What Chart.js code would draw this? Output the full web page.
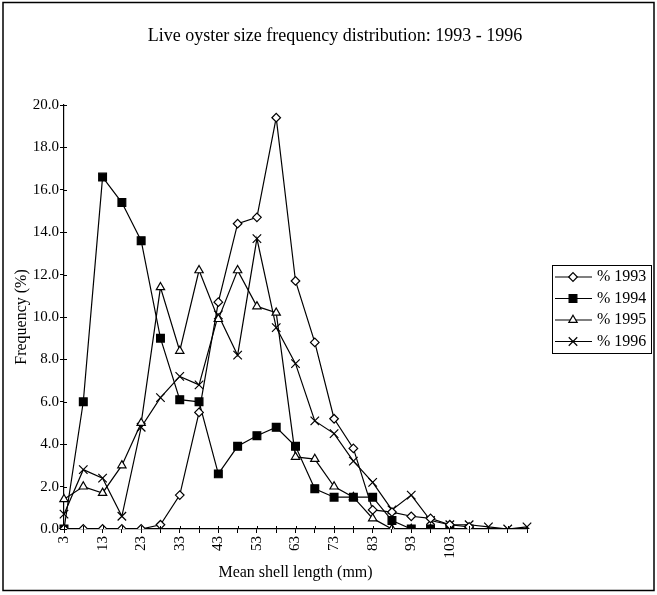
<!DOCTYPE html>
<html>
<head>
<meta charset="utf-8">
<title>Live oyster size frequency distribution</title>
<script src="https://cdn.jsdelivr.net/npm/chart.js@4/dist/chart.umd.min.js"></script>
<style>
  html, body { margin: 0; padding: 0; background: #fff; }
  #wrap { width: 657px; height: 595px; }
</style>
</head>
<body>
<div id="wrap"><canvas id="chart" width="657" height="595"></canvas></div>
<script>
// Mean shell length classes (mm)
const lengths = [3, 8, 13, 18, 23, 28, 33, 38, 43, 48, 53, 58, 63, 68, 73, 78, 83, 88, 93, 98, 103, 108, 113, 118, 123];
const lastLabelled = 103;

// Frequency (%) per year
const pct1993 = [0, 0, 0, 0, 0, 0.2, 1.6, 5.5, 10.7, 14.4, 14.7, 19.4, 11.7, 8.8, 5.2, 3.8, 0.9, 0.8, 0.6, 0.5, 0.2, 0.1];
const pct1994 = [0, 6.0, 16.6, 15.4, 13.6, 9.0, 6.1, 6.0, 2.6, 3.9, 4.4, 4.8, 3.9, 1.9, 1.5, 1.5, 1.5, 0.4, 0, 0, 0, 0];
const pct1995 = [1.4, 2.0, 1.7, 3.0, 5.0, 11.4, 8.4, 12.2, 9.9, 12.2, 10.5, 10.2, 3.4, 3.3, 2.0, 1.5, 0.5, 0, 0, 0, 0, 0];
const pct1996 = [0.7, 2.8, 2.4, 0.6, 4.8, 6.2, 7.2, 6.8, 10.1, 8.2, 13.7, 9.5, 7.8, 5.1, 4.5, 3.2, 2.2, 0.9, 1.6, 0.4, 0.2, 0.2, 0.1, 0, 0.1];

const serif = "'Liberation Serif', 'DejaVu Serif', serif";

function series(label, data, style, radius, fill) {
  return {
    label,
    data,
    borderColor: "#000",
    borderWidth: 1.2,
    pointStyle: style,
    pointRadius: radius,
    pointHoverRadius: radius,
    pointBorderWidth: 1.2,
    pointBorderColor: "#000",
    pointBackgroundColor: fill,
    tension: 0,
    fill: false,
  };
}

// frame, title, inward half of the cross ticks and the boxed legend
const decor = {
  id: "decor",
  afterDraw(chart) {
    const ctx = chart.ctx;
    const { x, y } = chart.scales;
    ctx.save();
    ctx.strokeStyle = "#000";
    ctx.lineWidth = 1.5;
    ctx.strokeRect(3, 2.5, 651, 588);

    ctx.fillStyle = "#000";
    ctx.font = "18px " + serif;
    ctx.textAlign = "center";
    ctx.textBaseline = "middle";
    ctx.fillText("Live oyster size frequency distribution: 1993 - 1996", 335, 36);

    ctx.lineWidth = 1;
    ctx.beginPath();
    y.ticks.forEach((t, i) => {
      const py = Math.round(y.getPixelForTick(i)) + 0.5;
      ctx.moveTo(y.right, py);
      ctx.lineTo(y.right + 3, py);
    });
    x.ticks.forEach((t, i) => {
      const px = Math.round(x.getPixelForTick(i)) + 0.5;
      ctx.moveTo(px, x.top);
      ctx.lineTo(px, x.top - 3);
    });
    ctx.stroke();

    // legend
    const box = { left: 552, top: 265, w: 99, h: 88 };
    ctx.fillStyle = "#fff";
    ctx.fillRect(box.left, box.top, box.w, box.h);
    ctx.strokeRect(box.left + 0.5, box.top + 0.5, box.w, box.h);
    chart.data.datasets.forEach((ds, i) => {
      const ry = box.top + 12 + i * 21.5;
      ctx.strokeStyle = "#000";
      ctx.lineWidth = 1.2;
      ctx.beginPath();
      ctx.moveTo(box.left + 3, ry);
      ctx.lineTo(box.left + 40, ry);
      ctx.stroke();
      ctx.fillStyle = ds.pointBackgroundColor;
      Chart.helpers.drawPoint(ctx, {
        pointStyle: ds.pointStyle,
        radius: ds.pointRadius,
        rotation: 0,
        borderWidth: 1.2,
      }, box.left + 21, ry);
      ctx.fillStyle = "#000";
      ctx.font = "16px " + serif;
      ctx.textAlign = "left";
      ctx.textBaseline = "middle";
      ctx.fillText(ds.label, box.left + 45, ry);
    });
    ctx.restore();
  },
};

new Chart(document.getElementById("chart"), {
  type: "line",
  data: {
    labels: lengths,
    datasets: [
      series("% 1993", pct1993, "rectRot", 4.3, "#fff"),
      series("% 1994", pct1994, "rect", 5.5, "#000"),
      series("% 1995", pct1995, "triangle", 4.8, "#fff"),
      series("% 1996", pct1996, "crossRot", 6, "#fff"),
    ],
  },
  options: {
    responsive: false,
    animation: false,
    layout: { padding: { left: 0, right: 130, top: 105, bottom: 0 } },
    plugins: { legend: { display: false }, tooltip: { enabled: false }, title: { display: false } },
    scales: {
      x: {
        offset: false,
        grid: { display: true, drawOnChartArea: false, drawTicks: true, tickLength: 4, color: "#000", lineWidth: 1 },
        border: { display: true, color: "#000", width: 1.2 },
        ticks: {
          autoSkip: false,
          minRotation: 90,
          maxRotation: 90,
          padding: 3,
          color: "#000",
          font: { family: serif, size: 15 },
          callback: (v, i) => (i % 2 === 0 && lengths[i] <= lastLabelled ? String(lengths[i]) : ""),
        },
        title: {
          display: true,
          text: "Mean shell length (mm)",
          color: "#000",
          font: { family: serif, size: 16 },
          padding: { top: 0, bottom: 13 },
        },
        afterFit: (s) => { s.height = 66; },
      },
      y: {
        min: 0,
        max: 20,
        grid: { display: true, drawOnChartArea: false, drawTicks: true, tickLength: 4, color: "#000", lineWidth: 1 },
        border: { display: true, color: "#000", width: 1.2 },
        ticks: {
          stepSize: 2,
          padding: 1,
          color: "#000",
          font: { family: serif, size: 15 },
          callback: (v) => Number(v).toFixed(1),
        },
        title: {
          display: true,
          text: "Frequency (%)",
          color: "#000",
          font: { family: serif, size: 16 },
          padding: { top: 12, bottom: 0 },
        },
        afterFit: (s) => { s.width = 64; },
      },
    },
  },
  plugins: [decor],
});
</script>
</body>
</html>
